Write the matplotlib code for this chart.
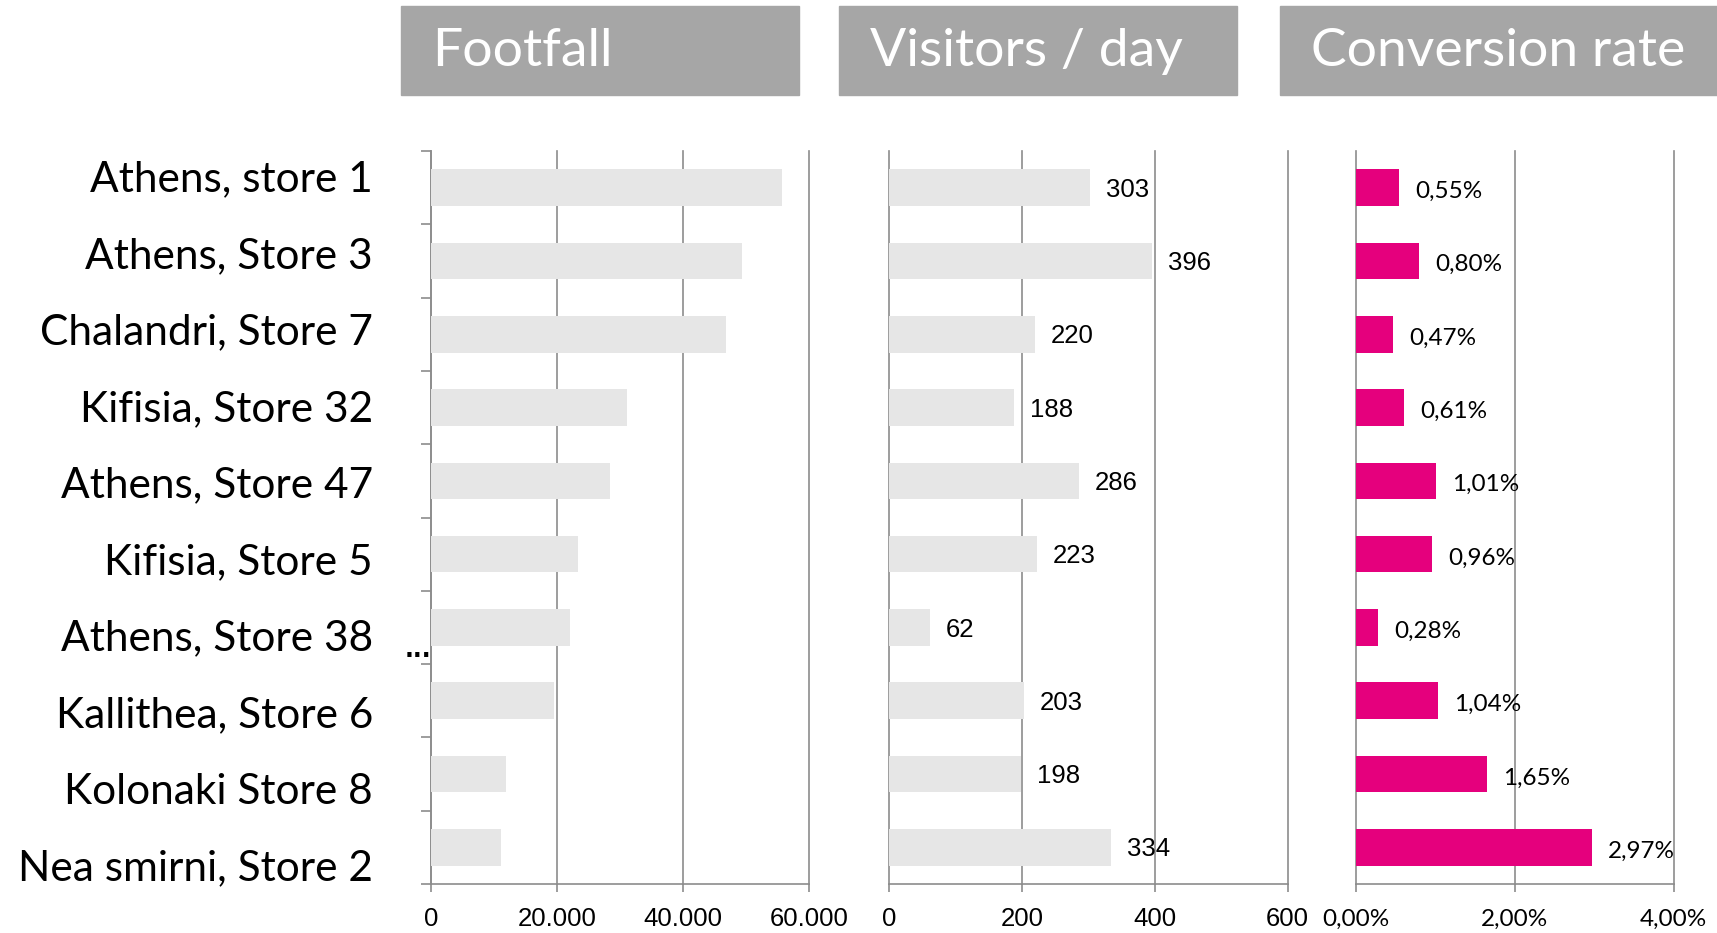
import numpy as np
import matplotlib
matplotlib.use('Agg')
import matplotlib.pyplot as plt
from matplotlib.patches import Rectangle

# Данные
stores = ['Athens, store 1', 'Athens, Store 3', 'Chalandri, Store 7', 'Kifisia, Store 32',
          'Athens, Store 47', 'Kifisia, Store 5', 'Athens, Store 38', 'Kallithea, Store 6',
          'Kolonaki Store 8', 'Nea smirni, Store 2']
footfall = [55700, 49400, 46800, 31100, 28500, 23400, 22100, 19600, 11900, 11100]
visitors = [303, 396, 220, 188, 286, 223, 62, 203, 198, 334]
conversion = [0.55, 0.80, 0.47, 0.61, 1.01, 0.96, 0.28, 1.04, 1.65, 2.97]  # %

panel_titles = ['Footfall', 'Visitors / day', 'Conversion rate']
footfall_ticks = [0, 20000, 40000, 60000]
visitors_ticks = [0, 200, 400, 600]
conversion_ticks = [0, 2, 4]

W, H = 1717, 933
GRAY = '#8c8c8c'
LIGHT = '#e6e6e6'
PINK = '#e5007d'
HEAD = '#a6a6a6'

fig = plt.figure(figsize=(W / 100, H / 100), dpi=100)


def px_axes(x0, x1, top=151, bottom=884):
    return [x0 / W, 1 - bottom / H, (x1 - x0) / W, (bottom - top) / H]


def fmt_thousands(v):
    return f'{v:,.0f}'.replace(',', '.')


def fmt_pct(v):
    return f'{v:.2f}%'.replace('.', ',')


# (позиция, значения, деления, цвет, подписи делений, подписи баров, шрифт, размер, отступ делений, сдвиг подписей)
panels = [
    (px_axes(431, 808.7), footfall, footfall_ticks, LIGHT,
     [fmt_thousands(t) for t in footfall_ticks], None, 'Liberation Sans', 18.5, 10.5, 0),
    (px_axes(889, 1287.7), visitors, visitors_ticks, LIGHT,
     [str(t) for t in visitors_ticks], [str(v) for v in visitors], 'Liberation Sans', 18.5, 10.5, -1.5),
    (px_axes(1355.7, 1673.7), conversion, conversion_ticks, PINK,
     [fmt_pct(t) for t in conversion_ticks], [fmt_pct(v) for v in conversion], 'Lato', 17.5, 12, -2.8),
]

y = np.arange(len(stores))
axes = []
for rect, vals, ticks, color, tlabels, vlabels, fam, fs, tpad, dy in panels:
    ax = fig.add_axes(rect)
    ax.barh(y, vals, height=0.5, color=color, zorder=3)
    ax.set_ylim(len(stores) - 0.5, -0.5)
    ax.set_xlim(ticks[0], ticks[-1])
    for t in ticks:
        ax.axvline(t, color=GRAY, lw=1.2, zorder=1, clip_on=False)
    for s in ['top', 'right', 'left']:
        ax.spines[s].set_visible(False)
    ax.spines['bottom'].set_color(GRAY)
    ax.spines['bottom'].set_linewidth(1.2)
    ax.set_xticks(ticks)
    ax.set_xticklabels(tlabels, fontfamily=fam, fontsize=fs)
    ax.tick_params(axis='x', direction='out', length=6, width=1.2, color=GRAY, pad=tpad)
    ax.set_yticks([])
    if vlabels is not None:
        for i, (v, lab) in enumerate(zip(vals, vlabels)):
            ax.annotate(lab, (v, i), xytext=(11.5, dy), textcoords='offset points',
                        va='center', ha='left', fontsize=fs, fontfamily=fam, zorder=4)
    axes.append(ax)

# засечки слева у первой панели
ax0 = axes[0]
ax0.set_yticks(np.arange(-0.5, len(stores), 1), minor=True)
ax0.tick_params(axis='y', which='minor', direction='out', length=7, width=1.2,
                color=GRAY, left=True)
ax0.spines['left'].set_visible(True)
ax0.spines['left'].set_color(GRAY)
ax0.spines['left'].set_linewidth(1.2)

# подписи магазинов
baselines = np.linspace(191.7, 880, len(stores))
for name, b in zip(stores, baselines):
    fig.text(373 / W, 1 - b / H, name, ha='right', va='baseline',
             fontsize=30.5, fontfamily='Lato')

fig.text(405 / W, 1 - 657 / H, '...', fontsize=17, fontweight='bold')

# заголовки панелей
head_boxes = [(401, 799), (839, 1236.7), (1280, 1717)]
for title, (x0, x1) in zip(panel_titles, head_boxes):
    fig.patches.append(Rectangle((x0 / W, 1 - 94.7 / H), (x1 - x0) / W, 89 / H,
                                 transform=fig.transFigure, color=HEAD, zorder=0))
    fig.text((x0 + 31) / W, 1 - 65.7 / H, title, color='white', fontsize=38.5,
             fontfamily='Lato', va='baseline', ha='left')

fig.savefig('out.png', dpi=100)
